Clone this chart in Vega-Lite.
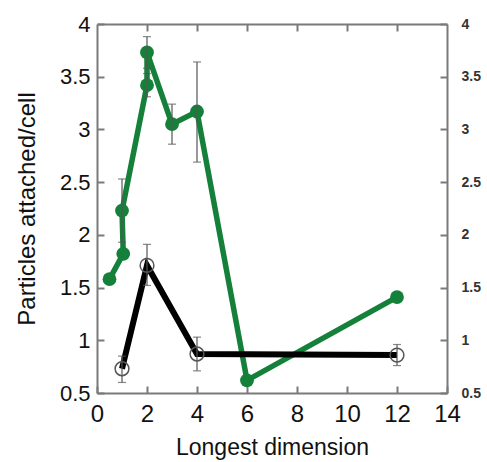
{
  "$schema": "https://vega.github.io/schema/vega-lite/v6.json",
  "width": 350,
  "height": 369,
  "autosize": {"type": "none"},
  "padding": {"left": 97, "top": 24, "right": 40, "bottom": 69},
  "background": "white",
  "config": {
    "view": {"stroke": null},
    "font": "Liberation Sans",
    "axis": {"grid": false, "labelFlush": false, "labelOverlap": false, "domainColor": "#7a7a7a", "domainWidth": 2, "tickColor": "#7a7a7a", "tickWidth": 2, "labelColor": "#111", "titleColor": "#111", "titleFontWeight": "normal"}
  },
  "datasets": {
    "green": [
      {"seq": 1, "x": 0.5, "y": 1.58, "lo": null, "hi": null},
      {"seq": 2, "x": 1.05, "y": 1.82, "lo": null, "hi": null},
      {"seq": 3, "x": 1.0, "y": 2.23, "lo": 1.93, "hi": 2.53},
      {"seq": 4, "x": 2.0, "y": 3.42, "lo": 3.31, "hi": 3.53},
      {"seq": 5, "x": 2.0, "y": 3.73, "lo": 3.58, "hi": 3.88},
      {"seq": 6, "x": 3.0, "y": 3.05, "lo": 2.86, "hi": 3.24},
      {"seq": 7, "x": 4.0, "y": 3.17, "lo": 2.69, "hi": 3.64},
      {"seq": 8, "x": 6.0, "y": 0.62, "lo": null, "hi": null},
      {"seq": 9, "x": 12.0, "y": 1.41, "lo": null, "hi": null}
    ],
    "black": [
      {"seq": 1, "x": 1.0, "y": 0.73, "lo": 0.6, "hi": 0.85},
      {"seq": 2, "x": 2.0, "y": 1.71, "lo": 1.52, "hi": 1.91},
      {"seq": 3, "x": 4.0, "y": 0.87, "lo": 0.71, "hi": 1.03},
      {"seq": 4, "x": 12.0, "y": 0.86, "lo": 0.76, "hi": 0.96}
    ]
  },
  "layer": [
    {
      "data": {"name": "green"},
      "mark": {"type": "line", "color": "#14803a", "strokeWidth": 5.5},
      "encoding": {
        "x": {"field": "x", "type": "quantitative", "scale": {"domain": [0, 14], "nice": false, "zero": false},
          "axis": {"orient": "bottom", "values": [0, 2, 4, 6, 8, 10, 12, 14], "tickSize": -7, "labelPadding": 16, "labelFontSize": 24, "title": "Longest dimension", "titleFontSize": 23, "titlePadding": 10}},
        "y": {"field": "y", "type": "quantitative", "scale": {"domain": [0.5, 4], "nice": false, "zero": false},
          "axis": {"orient": "left", "values": [0.5, 1, 1.5, 2, 2.5, 3, 3.5, 4], "format": "~g", "tickSize": -7, "labelPadding": 14, "labelFontSize": 22, "title": "Particles attached/cell", "titleFontSize": 24, "titlePadding": 20}},
        "order": {"field": "seq", "type": "quantitative"}
      }
    },
    {
      "data": {"name": "black"},
      "mark": {"type": "line", "color": "#000000", "strokeWidth": 6},
      "encoding": {
        "x": {"field": "x", "type": "quantitative",
          "axis": {"orient": "top", "values": [2, 4, 6, 8, 10, 12], "tickSize": -7, "labels": false, "title": null}},
        "y": {"field": "y", "type": "quantitative",
          "axis": {"orient": "right", "values": [0.5, 1, 1.5, 2, 2.5, 3, 3.5, 4], "format": "~g", "tickSize": -7, "labelPadding": 21, "labelFontSize": 14, "labelFontWeight": "bold", "labelColor": "#333", "title": null}},
        "order": {"field": "seq", "type": "quantitative"}
      }
    },
    {
      "data": {"name": "green"},
      "mark": {"type": "circle", "color": "#14803a", "size": 190, "opacity": 1},
      "encoding": {
        "x": {"field": "x", "type": "quantitative", "axis": null},
        "y": {"field": "y", "type": "quantitative", "axis": null}
      }
    },
    {
      "data": {"name": "black"},
      "mark": {"type": "point", "shape": "circle", "filled": false, "color": "#555", "strokeWidth": 1.5, "size": 190, "opacity": 1},
      "encoding": {
        "x": {"field": "x", "type": "quantitative", "axis": null},
        "y": {"field": "y", "type": "quantitative", "axis": null}
      }
    },
    {
      "data": {"name": "green"},
      "transform": [{"filter": "datum.lo != null"}],
      "mark": {"type": "rule", "color": "#555", "strokeWidth": 1.2},
      "encoding": {
        "x": {"field": "x", "type": "quantitative", "axis": null},
        "y": {"field": "lo", "type": "quantitative", "axis": null},
        "y2": {"field": "hi"}
      }
    },
    {
      "data": {"name": "black"},
      "mark": {"type": "rule", "color": "#555", "strokeWidth": 1.2},
      "encoding": {
        "x": {"field": "x", "type": "quantitative", "axis": null},
        "y": {"field": "lo", "type": "quantitative", "axis": null},
        "y2": {"field": "hi"}
      }
    },
    {
      "data": {"name": "green"},
      "transform": [{"filter": "datum.lo != null"}, {"fold": ["lo", "hi"], "as": ["end", "v"]}],
      "mark": {"type": "tick", "orient": "horizontal", "color": "#555", "size": 8, "thickness": 1.2},
      "encoding": {
        "x": {"field": "x", "type": "quantitative", "axis": null},
        "y": {"field": "v", "type": "quantitative", "axis": null}
      }
    },
    {
      "data": {"name": "black"},
      "transform": [{"fold": ["lo", "hi"], "as": ["end", "v"]}],
      "mark": {"type": "tick", "orient": "horizontal", "color": "#555", "size": 8, "thickness": 1.2},
      "encoding": {
        "x": {"field": "x", "type": "quantitative", "axis": null},
        "y": {"field": "v", "type": "quantitative", "axis": null}
      }
    }
  ],
  "resolve": {"axis": {"x": "independent", "y": "independent"}}
}
